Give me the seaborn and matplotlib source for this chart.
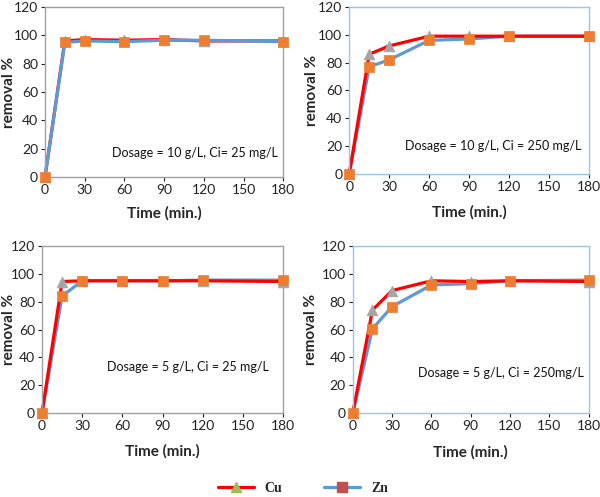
import pandas as pd
import matplotlib
matplotlib.use("Agg")
import matplotlib.pyplot as plt
import seaborn as sns
from matplotlib.lines import Line2D

# ----- data -----------------------------------------------------------------
time_min = [0, 15, 30, 60, 90, 120, 180]

cu_10_25 = [0, 96, 97, 96.5, 97, 96, 96]
zn_10_25 = [0, 95, 96, 95.5, 96.5, 96.5, 95.5]

cu_10_250 = [0, 86, 92, 99, 99, 99, 99]
zn_10_250 = [0, 77, 82, 96, 97, 99, 99]

cu_5_25 = [0, 94.5, 95, 95, 95, 95, 94.5]
zn_5_25 = [0, 84, 95, 95, 95, 95.5, 95.5]

cu_5_250 = [0, 74, 88, 95, 94.5, 95, 94.5]
zn_5_250 = [0, 60.5, 76.5, 92, 93, 95, 95.5]

panel_labels = ["Dosage = 10 g/L, Ci= 25 mg/L",
                "Dosage = 10 g/L, Ci = 250 mg/L",
                "Dosage = 5 g/L, Ci = 25 mg/L",
                "Dosage = 5 g/L, Ci = 250mg/L"]

panels = [(cu_10_25, zn_10_25), (cu_10_250, zn_10_250),
          (cu_5_25, zn_5_25), (cu_5_250, zn_5_250)]

# ----- style ----------------------------------------------------------------
sns.set_style("white")
plt.rcParams["font.family"] = ["Lato", "DejaVu Sans"]

RED = "#FF0000"
BLUE = "#5B9BD5"
ORANGE = "#ED7D31"
GRAY = "#A5A5A5"

W, H = 600, 497
fig = plt.figure(figsize=(6, 4.97), dpi=100)
boxes = [[0.075, 0.644, 0.397, 0.342],
         [0.582, 0.650, 0.400, 0.336],
         [0.070, 0.169, 0.402, 0.336],
         [0.588, 0.169, 0.393, 0.336]]
frame_colors = ["#A0A0A0", "#9DC3E6", "#A0A0A0", "#9DC3E6"]
text_pos = [(51, 17), (42, 20), (48.5, 33), (49.6, 28.7)]
# which line sits on top in each panel
line_order = [["Cu", "Zn"], ["Zn", "Cu"], ["Zn", "Cu"], ["Zn", "Cu"]]
# label anchors in pixels: (ylabel right edge x, xlabel top y)
ylab_x = [16, 319, 16, 318]
xlab_y = [206, 205, 444, 445]

for i, (cu, zn) in enumerate(panels):
    ax = fig.add_axes(boxes[i])
    df = pd.DataFrame({"t": time_min * 2,
                       "removal": zn + cu,
                       "metal": ["Zn"] * len(zn) + ["Cu"] * len(cu)})
    sns.lineplot(data=df, x="t", y="removal", hue="metal",
                 hue_order=line_order[i],
                 palette={"Zn": BLUE, "Cu": RED}, linewidth=2.3,
                 legend=False, ax=ax, zorder=2)
    sns.scatterplot(x=time_min, y=cu, marker="^", color=GRAY, s=60,
                    edgecolor=GRAY, linewidth=0.5, ax=ax, zorder=3)
    sns.scatterplot(x=time_min, y=zn, marker="s", color=ORANGE, s=55,
                    edgecolor=ORANGE, linewidth=0.5, ax=ax, zorder=4)

    ax.set_xlim(0, 180)
    ax.set_ylim(0, 120)
    ax.set_xticks([0, 30, 60, 90, 120, 150, 180])
    ax.set_yticks([0, 20, 40, 60, 80, 100, 120])
    ax.tick_params(labelsize=10, length=3, width=0.8, direction="out",
                   bottom=True, left=True, colors="#222222", pad=2)
    for sp in ax.spines.values():
        sp.set_visible(True)
        sp.set_color(frame_colors[i])
        sp.set_linewidth(1.0)
    ax.set_xlabel("Time (min.)", fontsize=11, fontweight="bold")
    ax.set_ylabel("removal %", fontsize=11, fontweight="bold")
    cx = (boxes[i][0] + boxes[i][2] / 2)
    ax.xaxis.set_label_coords(cx, 1 - xlab_y[i] / H, transform=fig.transFigure)
    cy = (boxes[i][1] + boxes[i][3] / 2)
    ax.yaxis.set_label_coords(ylab_x[i] / W, cy, transform=fig.transFigure)
    ax.text(text_pos[i][0], text_pos[i][1], panel_labels[i], fontsize=9.0,
            ha="left", va="center", color="#111111")
    for c in ax.collections + ax.lines:
        c.set_clip_on(False)

handles = [Line2D([0], [0], color=RED, lw=2.3, marker="^", markersize=7,
                  markerfacecolor="#9BBB59", markeredgecolor="#9BBB59"),
           Line2D([0], [0], color=BLUE, lw=2.3, marker="s", markersize=7,
                  markerfacecolor="#C0504D", markeredgecolor="#C0504D")]
fig.legend(handles, ["Cu", "Zn"], loc="center", bbox_to_anchor=(0.505, 0.018),
           ncol=2, frameon=False, handlelength=2.6, columnspacing=3.0,
           prop={"family": "Liberation Serif", "weight": "bold", "size": 10})

fig.savefig("out.png", dpi=100)
